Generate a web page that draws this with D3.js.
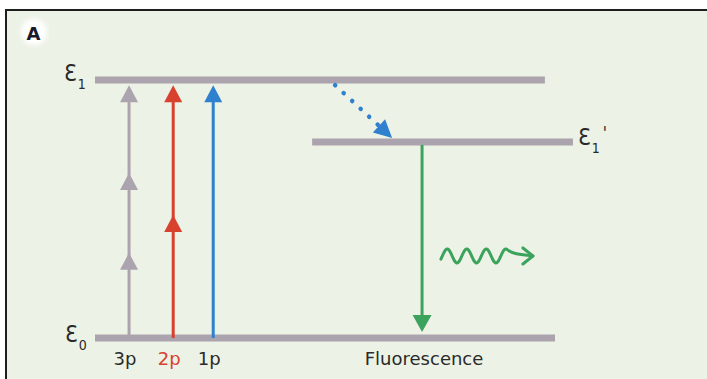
<!DOCTYPE html>
<html><head><meta charset="utf-8">
<script src="https://cdn.jsdelivr.net/npm/d3@7"></script>
<style>
body{margin:0;background:#fff;}
text{font-family:"DejaVu Sans",sans-serif;}
</style></head>
<body><svg id="c" width="707" height="379"></svg>
<script>
// ---- data ----
const levelSub = ["0", "1", "1"];
const levelPrime = ["", "", "'"];
const levelEnergy = [0, 1, 0.76];
const levelStart = [0, 0, 47.2];
const levelEnd = [100, 97.8, 103.9];

const excitationLabels = ["3p", "2p", "1p"];
const excitationX = [7.4, 17.0, 25.7];
const excitationHeads = [[0.33, 0.64, 0.98], [0.477, 0.98], [0.98]];

const relaxFrom = [52.2, 0.98];
const relaxTo = [64.6, 0.775];

const fluoX = 71.1;
const fluoFrom = 0.76;
const fluoTo = 0.023;

const emissionX = [75.2, 95.2];
const emissionEnergy = 0.318;

const bottomLabel = "Fluorescence";
const panelLabel = "A";

// ---- styles ----
const colors = {bg:"#edf2e6", level:"#aba3ae", "3p":"#aba3ae", "2p":"#d8412e", "1p":"#2f80cf", relax:"#2f80cf", fluo:"#3ca35d", text:"#2a2a2a"};
const labelColors = {"3p":"#2a2a2a", "2p":"#d8412e", "1p":"#2a2a2a"};

const svg = d3.select("#c");
const x = d3.scaleLinear().domain([0, 100]).range([95, 555]);
const y = d3.scaleLinear().domain([0, 1]).range([338, 80]);

svg.append("rect").attr("x", 6).attr("y", 10).attr("width", 720).attr("height", 400)
  .attr("fill", colors.bg).attr("stroke", "#1e1e1e").attr("stroke-width", 2);

// panel label
const defs = svg.append("defs");
defs.append("filter").attr("id", "blur").append("feGaussianBlur").attr("stdDeviation", 2);
svg.append("circle").attr("cx", 34).attr("cy", 32).attr("r", 13).attr("fill", "#fff").attr("filter", "url(#blur)");
svg.append("text").attr("x", 33.5).attr("y", 39.5).attr("text-anchor", "middle")
  .attr("font-size", 18).attr("font-weight", "bold").attr("fill", "#1a1a2a").text(panelLabel);

// levels
levelEnergy.forEach((e, i) => {
  svg.append("line").attr("x1", x(levelStart[i])).attr("x2", x(levelEnd[i]))
    .attr("y1", y(e)).attr("y2", y(e)).attr("stroke", colors.level).attr("stroke-width", 7);
});

function symbol(tx, ty, sub, prime) {
  const t = svg.append("text").attr("x", tx).attr("y", ty).attr("fill", colors.text)
    .attr("font-size", 23).style("font-family", "'DejaVu Sans Condensed','DejaVu Sans',sans-serif").style("font-stretch", "condensed");
  t.append("tspan").text("Ɛ");
  t.append("tspan").attr("font-size", 14).attr("dy", 8).attr("dx", 1).text(sub);
  if (prime) t.append("tspan").attr("font-size", 17).attr("dy", -14).attr("dx", 3).text(prime);
}
symbol(64, y(levelEnergy[1]) + 1, levelSub[1], levelPrime[1]);
symbol(65, y(levelEnergy[0]) + 4, levelSub[0], levelPrime[0]);
symbol(x(levelEnd[2]) + 5, y(levelEnergy[2]) + 3, levelSub[2], levelPrime[2]);

function head(tx, ty, angle, w, l, color) {
  const ca = Math.cos(angle), sa = Math.sin(angle);
  const bx = tx - l * ca, by = ty - l * sa;
  const px = -sa * w / 2, py = ca * w / 2;
  svg.append("path").attr("d", `M${tx},${ty}L${bx + px},${by + py}L${bx - px},${by - py}Z`).attr("fill", color);
}

// excitation arrows
excitationLabels.forEach((lab, i) => {
  const cx = x(excitationX[i]);
  const heads = excitationHeads[i];
  const top = y(heads[heads.length - 1]);
  svg.append("line").attr("x1", cx).attr("x2", cx).attr("y1", y(0)).attr("y2", top + 10)
    .attr("stroke", colors[lab]).attr("stroke-width", 3);
  heads.forEach(h => head(cx, y(h), -Math.PI / 2, 18, 17, colors[lab]));
  svg.append("text").attr("x", cx - 4).attr("y", 365).attr("text-anchor", "middle")
    .attr("font-size", 18).attr("fill", labelColors[lab]).text(lab);
});

// relaxation dotted arrow
{
  const x1 = x(relaxFrom[0]), y1 = y(relaxFrom[1]), x2 = x(relaxTo[0]), y2 = y(relaxTo[1]);
  const ang = Math.atan2(y2 - y1, x2 - x1);
  const ex = x2 - 16 * Math.cos(ang), ey = y2 - 16 * Math.sin(ang);
  svg.append("line").attr("x1", x1).attr("y1", y1).attr("x2", ex).attr("y2", ey)
    .attr("stroke", colors.relax).attr("stroke-width", 4.5).attr("stroke-linecap", "round")
    .attr("stroke-dasharray", "0.1 11.5");
  head(x2, y2, ang, 18, 18, colors.relax);
}

// fluorescence arrow
{
  const cx = x(fluoX);
  svg.append("line").attr("x1", cx).attr("x2", cx).attr("y1", y(fluoFrom) + 3).attr("y2", y(fluoTo) - 12)
    .attr("stroke", colors.fluo).attr("stroke-width", 3);
  head(cx, y(fluoTo), Math.PI / 2, 19, 17, colors.fluo);
}

// emitted photon wave
{
  const xs = x(emissionX[0]), xe = x(emissionX[1]), cy = y(emissionEnergy);
  const lam = 19.5, amp = 7, waveEnd = xs + lam * 3.4;
  const pts = [];
  for (let px = xs; px <= waveEnd; px += 0.5) {
    pts.push([px, cy + amp * Math.cos((px - xs) / lam * 2 * Math.PI + Math.PI * 0.35)]);
  }
  pts.push([waveEnd + 6, cy - 2]);
  pts.push([xe, cy]);
  svg.append("path").attr("d", d3.line().curve(d3.curveBasis)(pts))
    .attr("fill", "none").attr("stroke", colors.fluo).attr("stroke-width", 3).attr("stroke-linecap", "round");
  svg.append("path").attr("d", `M${xe - 10},${cy - 8}L${xe},${cy}L${xe - 10},${cy + 8}`)
    .attr("fill", "none").attr("stroke", colors.fluo).attr("stroke-width", 3).attr("stroke-linecap", "round").attr("stroke-linejoin", "round");
}

svg.append("text").attr("x", x(fluoX) + 2).attr("y", 365).attr("text-anchor", "middle")
  .attr("font-size", 18).attr("fill", colors.text).text(bottomLabel);
</script></body></html>
